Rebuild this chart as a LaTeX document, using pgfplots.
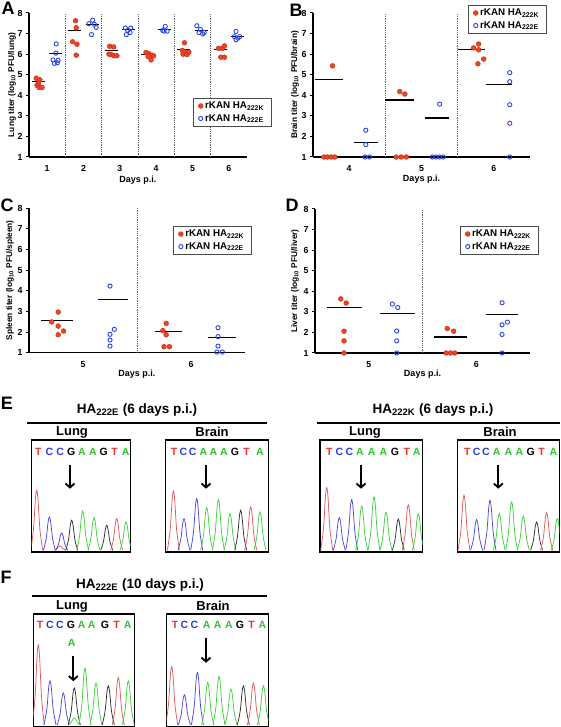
\documentclass[border=0pt]{standalone}
\usepackage{fontspec}
\setmainfont{Liberation Sans}
\usepackage{pgfplots}
\pgfplotsset{compat=1.18}
\usetikzlibrary{arrows.meta}

\definecolor{mR}{HTML}{EE4422}
\definecolor{mRd}{HTML}{C8321A}
\definecolor{mB}{HTML}{2A45E0}
\definecolor{chR}{HTML}{E25A5A}
\definecolor{chB}{HTML}{4A4AD8}
\definecolor{chG}{HTML}{3CD23C}
\definecolor{chK}{HTML}{303030}
\definecolor{lT}{HTML}{E8352A}
\definecolor{lC}{HTML}{2B3BD8}
\definecolor{lA}{HTML}{33C333}

\pgfplotsset{
 panel/.style={scale only axis, clip=false, anchor=south west,
  axis x line*=bottom, axis y line*=left,
  axis line style={line width=1.3pt},
  ymin=1, ymax=8, ytick={1,2,...,8},
  xtick style={draw=none},
  ytick style={line width=1pt, black},
  tick align=outside, major tick length=3pt,
  tick label style={font=\fontsize{8.8}{10}\selectfont\bfseries},
  /pgf/number format/assume math mode=true,
  xticklabel style={yshift=-2pt},
  xlabel={Days p.i.},
  xlabel style={font=\fontsize{9}{10}\selectfont\bfseries, anchor=center},
  ylabel style={font=\fontsize{8.3}{10}\selectfont\bfseries, anchor=center},
  legend cell align=left,
  legend style={anchor=north west, draw=gray!60!black, line width=0.8pt,
    font=\fontsize{9.8}{11}\selectfont\bfseries, inner xsep=5pt, inner ysep=1.5pt,
    row sep=0.3pt, fill=white}},
 red/.style={only marks, mark=*, mark size=2.4pt, mark options={fill=mR, draw=mRd, line width=0.5pt}},
 blu/.style={only marks, mark=o, mark size=2.1pt, mark options={draw=mB, line width=0.9pt}},
 mean/.style={black, line width=1.2pt, forget plot},
 div/.style={gray!75!black, densely dotted, line width=0.8pt, forget plot},
 chrom/.style={scale only axis, anchor=north west, xmin=0, ymin=0,
  xtick=\empty, ytick=\empty, axis line style={line width=1.2pt}, clip=true},
}

\newcommand{\pk}[3]{%
 \pgfmathsetmacro\pkA{#2-6}%
 \pgfmathsetmacro\pkB{#2-3.2}%
 \pgfmathsetmacro\pkC{#2-1.3}%
 \pgfmathsetmacro\pkD{#2+1.3}%
 \pgfmathsetmacro\pkE{#2+3.2}%
 \pgfmathsetmacro\pkF{#2+6}%
 \pgfmathsetmacro\pkG{1.7+(#3)*0.35}%
 \pgfmathsetmacro\pkH{1.7+(#3)*0.85}%
 \pgfmathsetmacro\pkI{1.7+(#3)}%
 \edef\pkcmd{\noexpand\addplot[draw=#1, line width=0.75pt, smooth, tension=0.5] coordinates {(\pkA,1.7) (\pkB,\pkG) (\pkC,\pkH) (#2,\pkI) (\pkD,\pkH) (\pkE,\pkG) (\pkF,1.7)};}%
 \pkcmd}

\newcommand{\seqfont}{\fontsize{10.5}{12}\selectfont\bfseries}
\newcommand{\arr}[3]{\draw[line width=1.8pt, -{Straight Barb[length=4pt,width=9pt,line width=1.8pt]}] (axis cs:#1,#2) -- (axis cs:#1,#3);}
\newcommand{\seq}[1]{\node[font=\seqfont] at (axis cs:#1) }

\begin{document}
\begin{tikzpicture}[x=1pt,y=1pt]
\path[use as bounding box] (0,0) rectangle (560,727);

% ---------------- Panel A
\begin{axis}[panel, at={(29pt,570pt)}, width=218pt, height=144pt,
  xmin=0.5, xmax=6.5, xtick={1,...,6},
  ylabel={Lung titer (log\textsubscript{10} PFU/lung)},
  ylabel style={at={(axis description cs:-0.078,0.5)}},
  xlabel style={at={(axis description cs:0.5,-0.16)}},
  legend style={at={(0.752,0.41)}}]
\addplot[div] coordinates {(1.5,1) (1.5,8)};
\addplot[div] coordinates {(2.5,1) (2.5,8)};
\addplot[div] coordinates {(3.5,1) (3.5,8)};
\addplot[div] coordinates {(4.5,1) (4.5,8)};
\addplot[div] coordinates {(5.5,1) (5.5,8)};
\addplot[red] coordinates {
 (0.70,4.83) (0.80,4.75) (0.76,4.58) (0.72,4.48) (0.78,4.38) (0.86,4.38)
 (1.70,6.60) (1.78,7.62) (1.80,7.28) (1.82,6.48) (1.80,5.95)
 (2.72,6.38) (2.83,6.35) (2.76,5.98) (2.84,5.92) (2.92,5.92) (2.70,6.00)
 (3.72,6.08) (3.80,6.02) (3.88,5.95) (3.78,5.88) (3.86,5.72) (3.93,5.92)
 (4.78,6.55) (4.72,6.18) (4.80,6.10) (4.74,6.00) (4.85,5.98) (4.90,6.10)
 (5.72,6.28) (5.82,6.28) (5.88,6.40) (5.78,5.85) (5.88,5.85)};
\addplot[blu] coordinates {
 (1.25,6.50) (1.24,6.05) (1.16,5.72) (1.30,5.70) (1.20,5.55) (1.28,5.58)
 (2.15,7.48) (2.25,7.65) (2.30,7.45) (2.22,6.95) (2.35,7.30)
 (3.15,7.27) (3.30,7.27) (3.22,7.15) (3.18,6.95) (3.28,7.05)
 (4.18,7.15) (4.25,7.35) (4.30,7.12) (4.22,7.12)
 (5.12,7.38) (5.22,7.20) (5.18,7.05) (5.28,6.98) (5.32,7.05)
 (6.20,7.10) (6.15,6.85) (6.25,6.78) (6.30,6.85) (6.20,6.70)};
\legend{rKAN HA\textsubscript{222K}, rKAN HA\textsubscript{222E}}
\addplot[mean] coordinates {(0.58,4.66) (0.94,4.66)};
\addplot[mean] coordinates {(1.06,6.02) (1.42,6.02)};
\addplot[mean] coordinates {(1.58,7.16) (1.94,7.16)};
\addplot[mean] coordinates {(2.06,7.44) (2.42,7.44)};
\addplot[mean] coordinates {(2.58,6.18) (2.94,6.18)};
\addplot[mean] coordinates {(3.06,7.19) (3.42,7.19)};
\addplot[mean] coordinates {(3.58,5.97) (3.94,5.97)};
\addplot[mean] coordinates {(4.06,7.19) (4.42,7.19)};
\addplot[mean] coordinates {(4.58,6.24) (4.94,6.24)};
\addplot[mean] coordinates {(5.06,7.16) (5.42,7.16)};
\addplot[mean] coordinates {(5.58,6.21) (5.94,6.21)};
\addplot[mean] coordinates {(6.06,6.86) (6.42,6.86)};
\end{axis}

% ---------------- Panel B
\begin{axis}[panel, at={(313pt,570pt)}, width=217pt, height=144pt,
  xmin=3.5, xmax=6.5, xtick={4,5,6},
  ylabel={Brain titer (log\textsubscript{10} PFU/brain)},
  ylabel style={at={(axis description cs:-0.083,0.5)}},
  xlabel style={at={(axis description cs:0.5,-0.153)}},
  legend style={at={(0.714,1.056)}}]
\addplot[div] coordinates {(4.5,1) (4.5,8)};
\addplot[div] coordinates {(5.5,1) (5.5,8)};
\addplot[red] coordinates {
 (3.77,5.43) (3.65,1) (3.70,1) (3.75,1) (3.80,1)
 (4.70,4.18) (4.77,4.06) (4.65,1) (4.72,1) (4.79,1)
 (5.72,6.30) (5.79,6.49) (5.79,6.21) (5.78,5.53) (5.86,5.76)};
\addplot[blu] coordinates {
 (4.23,2.30) (4.23,1.60) (4.22,1) (4.28,1)
 (5.25,3.57) (5.15,1) (5.20,1) (5.25,1) (5.30,1)
 (6.22,5.10) (6.22,4.66) (6.22,3.54) (6.22,2.64) (6.22,1)};
\legend{rKAN HA\textsubscript{222K}, rKAN HA\textsubscript{222E}}
\addplot[mean] coordinates {(3.53,4.75) (3.91,4.75)};
\addplot[mean] coordinates {(4.07,1.70) (4.40,1.70)};
\addplot[mean] coordinates {(4.50,3.77) (4.90,3.77)};
\addplot[mean] coordinates {(5.05,2.90) (5.38,2.90)};
\addplot[mean] coordinates {(5.50,6.21) (5.88,6.21)};
\addplot[mean] coordinates {(5.89,4.53) (6.25,4.53)};
\end{axis}

% ---------------- Panel C
\begin{axis}[panel, at={(29pt,374.3pt)}, width=216pt, height=144.4pt,
  xmin=4.5, xmax=6.5, xtick={5,6},
  ylabel={Spleen titer (log\textsubscript{10} PFU/spleen)},
  ylabel style={at={(axis description cs:-0.088,0.5)}},
  xlabel style={at={(axis description cs:0.5,-0.147)}},
  legend style={at={(0.667,0.877)}}]
\addplot[div] coordinates {(5.5,1) (5.5,8)};
\addplot[red] coordinates {
 (4.77,2.97) (4.71,2.49) (4.77,2.29) (4.77,1.87) (4.82,2.05)
 (5.77,2.42) (5.74,2.07) (5.77,1.87) (5.75,1.29) (5.80,1.29)};
\addplot[blu] coordinates {
 (5.25,4.23) (5.29,2.13) (5.25,1.89) (5.25,1.61) (5.25,1.32)
 (6.25,2.21) (6.25,1.78) (6.25,1.32) (6.24,1.03) (6.29,1.03)};
\legend{rKAN HA\textsubscript{222K}, rKAN HA\textsubscript{222E}}
\addplot[mean] coordinates {(4.61,2.57) (4.91,2.57)};
\addplot[mean] coordinates {(5.14,3.58) (5.42,3.58)};
\addplot[mean] coordinates {(5.67,2.02) (5.92,2.02)};
\addplot[mean] coordinates {(6.16,1.73) (6.42,1.73)};
\end{axis}

% ---------------- Panel D
\begin{axis}[panel, at={(315pt,374pt)}, width=215pt, height=144pt,
  xmin=4.5, xmax=6.5, xtick={5,6},
  ylabel={Liver titer (log\textsubscript{10} PFU/liver)},
  ylabel style={at={(axis description cs:-0.093,0.5)}},
  xlabel style={at={(axis description cs:0.5,-0.146)}},
  legend style={at={(0.674,0.882)}}]
\addplot[div] coordinates {(5.5,1) (5.5,8)};
\addplot[red] coordinates {
 (4.74,3.63) (4.79,3.43) (4.77,2.06) (4.77,1.59) (4.77,1)
 (5.73,2.19) (5.79,2.06) (5.72,1) (5.76,1) (5.80,1)};
\addplot[blu] coordinates {
 (5.22,3.38) (5.27,3.21) (5.26,2.07) (5.26,1.59) (5.26,1)
 (6.24,3.44) (6.29,2.50) (6.24,2.37) (6.24,1.90) (6.24,1)};
\legend{rKAN HA\textsubscript{222K}, rKAN HA\textsubscript{222E}}
\addplot[mean] coordinates {(4.61,3.20) (4.94,3.20)};
\addplot[mean] coordinates {(5.10,2.92) (5.43,2.92)};
\addplot[mean] coordinates {(5.61,1.78) (5.91,1.78)};
\addplot[mean] coordinates {(6.09,2.87) (6.39,2.87)};
\end{axis}

% ---------------- Panel letters
\node[font=\fontsize{18}{20}\selectfont\bfseries] at (8,719) {A};
\node[font=\fontsize{18}{20}\selectfont\bfseries] at (296,717) {B};
\node[font=\fontsize{18}{20}\selectfont\bfseries] at (7,522) {C};
\node[font=\fontsize{18}{20}\selectfont\bfseries] at (292,522) {D};
\node[font=\fontsize{18}{20}\selectfont\bfseries] at (7,324) {E};
\node[font=\fontsize{18}{20}\selectfont\bfseries] at (6,150) {F};

% ---------------- E / F titles
\node[font=\fontsize{13.5}{16}\selectfont\bfseries] at (137,317) {HA\textsubscript{222E} (6 days p.i.)};
\draw[line width=2pt] (27,304) -- (267,304);
\node[font=\fontsize{13}{15}\selectfont\bfseries] at (72,295) {Lung};
\node[font=\fontsize{13}{15}\selectfont\bfseries] at (212,295) {Brain};

\node[font=\fontsize{13.5}{16}\selectfont\bfseries] at (433,317) {HA\textsubscript{222K} (6 days p.i.)};
\draw[line width=2pt] (317,304) -- (560,304);
\node[font=\fontsize{13}{15}\selectfont\bfseries] at (365,295) {Lung};
\node[font=\fontsize{13}{15}\selectfont\bfseries] at (500,295) {Brain};

\node[font=\fontsize{13.5}{16}\selectfont\bfseries] at (140,142) {HA\textsubscript{222E} (10 days p.i.)};
\draw[line width=2pt] (32,131) -- (267,131);
\node[font=\fontsize{13}{15}\selectfont\bfseries] at (72,121) {Lung};
\node[font=\fontsize{13}{15}\selectfont\bfseries] at (213,121) {Brain};

% ---------------- E1 lung
\begin{axis}[chrom, at={(31.7pt,287pt)}, width=99pt, height=112pt, xmax=99, ymax=112]
\pk{chR}{5}{60} \pk{chB}{17.7}{33.3} \pk{chR}{28.3}{4.3} \pk{chB}{30}{17.3}
\pk{chK}{40}{30} \pk{chG}{51}{39.3} \pk{chG}{62.3}{32.7} \pk{chK}{75}{25}
\pk{chR}{85}{31.7} \pk{chG}{94.3}{28.3}
\seq{6.7,100}[text=lT]{T}; \seq{17.6,100}[text=lC]{C}; \seq{28.5,100}[text=lC]{C};
\seq{39.4,100}[text=black]{G}; \seq{50.3,100}[text=lA]{A}; \seq{61.2,100}[text=lA]{A};
\seq{72.1,100}[text=black]{G}; \seq{83,100}[text=lT]{T}; \seq{93.9,100}[text=lA]{A};
\arr{38.3}{87}{63.3}
\end{axis}

% ---------------- E1 brain
\begin{axis}[chrom, at={(165.7pt,287pt)}, width=102.7pt, height=112pt, xmax=102.7, ymax=112]
\pk{chR}{7.7}{59.3} \pk{chB}{18.3}{31.7} \pk{chB}{31}{51.7} \pk{chG}{41}{42.7}
\pk{chG}{52.7}{50.7} \pk{chG}{64.3}{36.7} \pk{chK}{75}{40} \pk{chR}{85}{43.3}
\pk{chG}{94.3}{38.3}
\seq{8.3,100}[text=lT]{T}; \seq{17.7,100}[text=lC]{C}; \seq{27,100}[text=lC]{C};
\seq{37.7,100}[text=lA]{A}; \seq{47.7,100}[text=lA]{A}; \seq{58.3,100}[text=lA]{A};
\seq{69.3,100}[text=black]{G}; \seq{81,100}[text=lT]{T}; \seq{94.3,100}[text=lA]{A};
\arr{40.3}{87}{63.3}
\end{axis}

% ---------------- E2 lung
\begin{axis}[chrom, at={(320pt,287pt)}, width=102.7pt, height=112pt, xmax=102.7, ymax=112]
\pk{chR}{6.7}{62.7} \pk{chB}{19.3}{32.7} \pk{chB}{31.7}{50.7} \pk{chG}{41.7}{44}
\pk{chG}{54}{53.3} \pk{chG}{66}{38} \pk{chK}{78.3}{31.3} \pk{chR}{88.3}{45.7}
\pk{chG}{98.3}{36.7}
\seq{9.3,100}[text=lT]{T}; \seq{19.3,100}[text=lC]{C}; \seq{29.3,100}[text=lC]{C};
\seq{40,100}[text=lA]{A}; \seq{51.7,100}[text=lA]{A}; \seq{63.3,100}[text=lA]{A};
\seq{75,100}[text=black]{G}; \seq{86.7,100}[text=lT]{T}; \seq{96.7,100}[text=lA]{A};
\arr{41}{87}{63.3}
\end{axis}

% ---------------- E2 brain
\begin{axis}[chrom, at={(457.3pt,287pt)}, width=102pt, height=112pt, xmax=102, ymax=112]
\pk{chR}{6.7}{55} \pk{chB}{19.3}{30.7} \pk{chB}{32.7}{50} \pk{chG}{42}{36.7}
\pk{chG}{54.3}{48.3} \pk{chG}{66}{34} \pk{chK}{79.3}{28.3} \pk{chR}{89.3}{37.3}
\pk{chG}{100}{31.7}
\seq{10,100}[text=lT]{T}; \seq{19.3,100}[text=lC]{C}; \seq{28.7,100}[text=lC]{C};
\seq{39.3,100}[text=lA]{A}; \seq{51,100}[text=lA]{A}; \seq{62,100}[text=lA]{A};
\seq{73.3,100}[text=black]{G}; \seq{84.3,100}[text=lT]{T}; \seq{96,100}[text=lA]{A};
\arr{41}{87}{63.3}
\end{axis}

% ---------------- F lung
\begin{axis}[chrom, at={(33.3pt,113pt)}, width=101pt, height=112.5pt, xmax=101, ymax=112.5]
\pk{chR}{5}{80} \pk{chB}{16.7}{44} \pk{chB}{30}{31.7} \pk{chG}{41}{6.7}
\pk{chK}{41}{36.7} \pk{chG}{51.7}{56.7} \pk{chG}{62.7}{41.7} \pk{chK}{75}{39}
\pk{chR}{85}{47.3} \pk{chG}{95}{44}
\seq{6.7,101.7}[text=lT]{T}; \seq{16.7,101.7}[text=lC]{C}; \seq{26.7,101.7}[text=lC]{C};
\seq{37.7,101.7}[text=black]{G}; \seq{48.3,101.7}[text=lA]{A}; \seq{58.3,101.7}[text=lA]{A};
\seq{71.7,101.7}[text=black]{G}; \seq{83.3,101.7}[text=lT]{T}; \seq{94.3,101.7}[text=lA]{A};
\seq{38.3,83.7}[text=lA]{A};
\arr{40}{70.3}{45.3}
\end{axis}

% ---------------- F brain
\begin{axis}[chrom, at={(166.7pt,113pt)}, width=101.7pt, height=112.5pt, xmax=101.7, ymax=112.5]
\pk{chR}{5}{58.3} \pk{chB}{17.7}{30} \pk{chB}{30.7}{52.3} \pk{chG}{41}{42.3}
\pk{chG}{52.3}{48.3} \pk{chG}{64.3}{35.7} \pk{chK}{76.7}{39} \pk{chR}{86.7}{41.7}
\pk{chG}{96.7}{39}
\seq{8.3,101.7}[text=lT]{T}; \seq{17.7,101.7}[text=lC]{C}; \seq{27.7,101.7}[text=lC]{C};
\seq{40,101.7}[text=lA]{A}; \seq{51,101.7}[text=lA]{A}; \seq{62.3,101.7}[text=lA]{A};
\seq{73.3,101.7}[text=black]{G}; \seq{85,101.7}[text=lT]{T}; \seq{95.7,101.7}[text=lA]{A};
\arr{39.3}{88.7}{63.7}
\end{axis}

\end{tikzpicture}
\end{document}
